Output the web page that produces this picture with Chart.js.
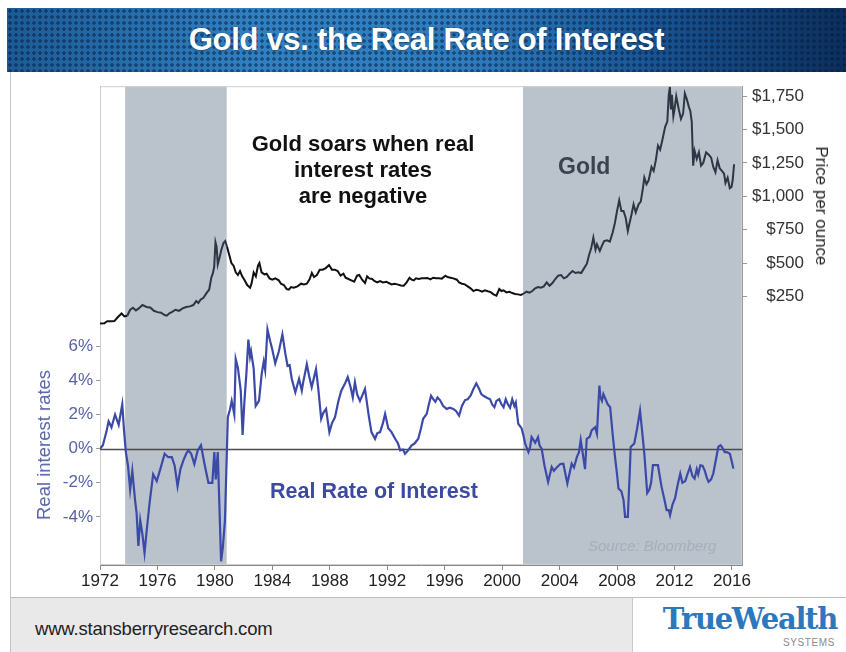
<!DOCTYPE html>
<html><head><meta charset="utf-8">
<script src="https://cdn.jsdelivr.net/npm/chart.js@4/dist/chart.umd.min.js"></script>
<style>
html,body{margin:0;padding:0;background:#fff;}
#page{position:relative;width:846px;height:652px;overflow:hidden;background:#fff;font-family:Arial,"Liberation Sans",sans-serif;}
#banner{position:absolute;left:7px;top:8px;width:839px;height:64px;
  background:
   radial-gradient(circle at 50% 50%, rgba(5,25,60,0.5) 0 1.5px, rgba(0,0,0,0) 2.1px) 0 0/6px 6px,
   linear-gradient(90deg,#1c5b95 0%,#3181c2 30%,#2e7cbd 55%,#185290 78%,#0c2f5c 100%);}
#banner h1{margin:0;position:absolute;left:0;right:0;top:14px;text-align:center;color:#fff;font:bold 31px Arial,"Liberation Sans",sans-serif;letter-spacing:-0.3px;text-shadow:0 1px 2px rgba(0,0,0,0.35);}
#leftrule{position:absolute;left:10px;top:72px;width:1px;height:580px;background:#c4c4c4;}
#chartBox{position:absolute;left:0;top:72px;width:846px;height:525px;}
.ann{position:absolute;white-space:nowrap;font-weight:bold;}
#a1{left:363px;top:131px;transform:translateX(-50%);text-align:center;font-size:22px;line-height:26px;color:#111;}
#a2{left:558px;top:153px;font-size:23px;color:#3a4350;}
#a3{left:270px;top:479px;font-size:21.5px;color:#3d4aa0;}
#src{position:absolute;left:588px;top:537px;font-style:italic;font-size:15px;color:#a6aeba;white-space:nowrap;}
#ltitle{position:absolute;left:44px;top:445px;transform:translate(-50%,-50%) rotate(-90deg);font-size:18.5px;color:#5a64aa;white-space:nowrap;}
#rtitle{position:absolute;left:821px;top:206px;transform:translate(-50%,-50%) rotate(90deg);font-size:17px;color:#222;white-space:nowrap;}
#footer{position:absolute;left:11px;top:597px;width:835px;height:55px;background:#e9e9e9;border-top:1px solid #bdbdbd;}
#url{position:absolute;left:24px;top:20px;font-size:18.5px;color:#222;white-space:nowrap;letter-spacing:-0.2px;}
#logo{position:absolute;left:621px;top:0;width:214px;height:55px;background:#fff;border-left:1px solid #c8c8c8;}
#tw{position:absolute;right:10px;top:4px;font-family:"DejaVu Serif","Liberation Serif",serif;font-weight:bold;font-size:29px;color:#2d78bd;letter-spacing:-1.3px;white-space:nowrap;}
#sys{position:absolute;right:12px;top:39px;font-size:10px;color:#8a8a8a;letter-spacing:0.6px;}
</style></head>
<body><div id="page">
<div id="banner"><h1>Gold vs. the Real Rate of Interest</h1></div>
<div id="leftrule"></div>
<div id="chartBox"><canvas id="c" width="846" height="525"></canvas></div>
<div class="ann" id="a1">Gold soars when real<br>interest rates<br>are negative</div>
<div class="ann" id="a2">Gold</div>
<div class="ann" id="a3">Real Rate of Interest</div>
<div id="src">Source: Bloomberg</div>
<div id="ltitle">Real interest rates</div>
<div id="rtitle">Price per ounce</div>
<div id="footer"><div id="url">www.stansberryresearch.com</div>
<div id="logo"><div id="tw">TrueWealth</div><div id="sys">SYSTEMS</div></div></div>
</div>
<script>
const xTickYears = [1972,1976,1980,1984,1988,1992,1996,2000,2004,2008,2012,2016];
const rateTicks = [-4,-2,0,2,4,6];
const priceTicks = [250,500,750,1000,1250,1500,1750];
const bandStarts = [1973.75, 2001.45];
const bandEnds = [1980.82, 2016.7];

const goldYears = [1972.0,1972.3,1972.5,1972.8,1973.0,1973.2,1973.5,1973.7,1973.9,1974.1,1974.3,1974.5,1974.7,1974.95,
1975.1,1975.3,1975.5,1975.75,1976.0,1976.25,1976.5,1976.65,1976.85,1977.0,1977.25,1977.5,1977.75,1978.0,1978.25,1978.5,1978.7,1978.85,
1979.0,1979.2,1979.45,1979.6,1979.75,1979.85,1979.95,1980.04,1980.12,1980.2,1980.3,1980.45,1980.6,1980.72,1980.85,
1981.0,1981.15,1981.3,1981.45,1981.6,1981.75,1981.9,1982.05,1982.25,1982.45,1982.55,1982.7,1982.85,1983.0,1983.1,1983.25,1983.45,1983.6,1983.8,
1984.0,1984.2,1984.45,1984.6,1984.8,1985.0,1985.15,1985.3,1985.5,1985.75,1986.0,1986.2,1986.4,1986.6,1986.75,1986.9,
1987.1,1987.3,1987.5,1987.7,1987.95,1988.15,1988.35,1988.55,1988.75,1988.95,1989.1,1989.3,1989.5,1989.7,1989.9,
1990.05,1990.25,1990.45,1990.6,1990.75,1990.95,1991.1,1991.3,1991.5,1991.7,1991.95,1992.1,1992.3,1992.5,1992.7,1992.95,
1993.15,1993.35,1993.55,1993.7,1993.85,1994.0,1994.2,1994.4,1994.6,1994.8,1995.0,1995.2,1995.4,1995.6,1995.8,
1996.05,1996.2,1996.4,1996.6,1996.85,1997.0,1997.2,1997.4,1997.6,1997.8,1998.0,1998.2,1998.4,1998.6,1998.8,
1999.0,1999.2,1999.4,1999.6,1999.8,1999.95,2000.1,2000.3,2000.5,2000.7,2000.9,2001.1,2001.3,2001.45,2001.7,2001.9,
2002.1,2002.3,2002.5,2002.7,2002.9,2003.1,2003.3,2003.5,2003.7,2003.9,2004.1,2004.3,2004.5,2004.7,2004.9,
2005.1,2005.3,2005.5,2005.7,2005.9,2006.05,2006.2,2006.35,2006.5,2006.6,2006.8,2006.95,2007.1,2007.3,2007.5,2007.7,2007.85,
2008.0,2008.15,2008.3,2008.45,2008.6,2008.75,2008.85,2009.0,2009.15,2009.3,2009.5,2009.65,2009.8,2009.9,
2010.05,2010.2,2010.4,2010.55,2010.7,2010.85,2011.0,2011.15,2011.35,2011.5,2011.6,2011.68,2011.75,2011.82,2011.92,
2012.0,2012.12,2012.3,2012.45,2012.6,2012.72,2012.85,2013.0,2013.1,2013.2,2013.3,2013.4,2013.55,2013.7,2013.85,
2014.0,2014.2,2014.4,2014.55,2014.7,2014.85,2015.0,2015.15,2015.3,2015.45,2015.55,2015.7,2015.85,2015.97,2016.05,2016.15];
const goldPrices = [46,49,64,63,65,90,122,100,105,150,165,145,160,185,
178,168,166,142,132,128,110,105,125,132,150,142,160,170,175,185,215,200,
225,240,280,300,390,420,470,655,620,490,530,600,650,665,620,
560,500,480,430,410,440,400,375,335,315,345,430,400,480,500,430,415,420,385,
375,385,370,345,335,305,300,320,315,325,345,340,345,380,425,395,
410,450,450,460,485,450,450,440,405,420,390,380,370,360,405,
410,375,350,400,385,380,365,355,365,355,360,350,340,345,340,332,
330,355,390,375,370,385,380,385,385,388,378,390,386,385,383,
405,395,390,385,375,355,345,340,325,310,290,300,295,285,295,
288,282,265,255,305,290,295,280,285,275,268,265,260,268,285,278,
290,310,320,315,325,355,330,350,380,405,410,385,395,420,440,
425,430,425,460,495,560,610,690,600,640,590,630,665,670,660,730,800,
890,970,890,890,840,740,790,860,940,880,940,960,1060,1140,
1090,1120,1220,1190,1270,1380,1350,1420,1520,1560,1760,1820,1650,1760,1600,
1650,1750,1650,1580,1620,1770,1730,1670,1640,1560,1230,1340,1280,1330,1230,
1250,1330,1310,1290,1220,1180,1270,1210,1190,1170,1100,1140,1060,1070,1120,1240];

const rateYears = [1972.0,1972.2,1972.45,1972.6,1972.8,1973.05,1973.3,1973.55,1973.67,1973.8,1973.95,1974.1,1974.25,1974.44,1974.55,1974.67,1974.8,1974.95,
1975.1,1975.25,1975.45,1975.7,1975.95,1976.2,1976.5,1976.75,1977.0,1977.2,1977.4,1977.6,1977.8,1978.0,1978.15,1978.35,1978.57,1978.8,
1979.03,1979.3,1979.55,1979.82,1979.96,1980.06,1980.2,1980.43,1980.55,1980.7,1980.9,1981.05,1981.17,1981.35,1981.45,1981.6,1981.8,1981.93,
1982.05,1982.2,1982.33,1982.45,1982.52,1982.7,1982.84,1983.07,1983.26,1983.4,1983.5,1983.66,1983.85,1984.0,1984.2,1984.45,1984.7,1984.9,
1985.06,1985.2,1985.35,1985.6,1985.86,1986.05,1986.15,1986.4,1986.55,1986.74,1987.04,1987.2,1987.4,1987.55,1987.74,1987.97,
1988.15,1988.36,1988.6,1988.8,1989.05,1989.25,1989.45,1989.6,1989.75,1989.9,1990.1,1990.3,1990.45,1990.7,1990.9,
1991.15,1991.3,1991.5,1991.7,1991.85,1992.07,1992.3,1992.55,1992.75,1992.9,1993.1,1993.24,1993.45,1993.7,1993.9,
1994.16,1994.35,1994.5,1994.75,1994.9,1995.05,1995.2,1995.35,1995.5,1995.67,1995.9,1996.14,1996.35,1996.6,1996.8,
1997.0,1997.2,1997.42,1997.6,1997.8,1998.0,1998.2,1998.4,1998.55,1998.7,1998.9,1999.16,1999.3,1999.46,1999.6,1999.8,1999.95,
2000.1,2000.25,2000.4,2000.55,2000.7,2000.85,2000.95,2001.12,2001.35,2001.48,2001.6,2001.83,2001.95,
2002.05,2002.3,2002.5,2002.6,2002.75,2002.95,2003.2,2003.45,2003.6,2003.8,2004.05,2004.26,2004.54,2004.84,
2005.0,2005.2,2005.35,2005.47,2005.65,2005.77,2005.89,2006.1,2006.23,2006.47,2006.6,2006.77,2006.85,2006.95,
2007.05,2007.2,2007.35,2007.52,2007.7,2007.86,2008.0,2008.1,2008.3,2008.45,2008.56,2008.75,2008.88,2008.95,
2009.2,2009.4,2009.6,2009.75,2009.9,2010.1,2010.25,2010.37,2010.5,2010.85,2010.95,2011.1,2011.3,2011.45,2011.6,2011.69,2011.85,
2012.04,2012.2,2012.4,2012.55,2012.75,2012.9,2013.08,2013.25,2013.4,2013.55,2013.65,2013.8,2013.95,
2014.1,2014.25,2014.37,2014.55,2014.7,2014.85,2015.05,2015.2,2015.3,2015.5,2015.63,2015.86,2016.0,2016.1];
const rateValues = [0.0,0.2,1.0,1.6,1.25,2.0,1.4,2.6,1.1,-0.2,-1.0,-2.4,-1.3,-3.0,-3.8,-5.7,-4.2,-5.0,
-6.1,-4.8,-3.2,-1.5,-1.9,-1.2,-0.3,-0.5,-0.5,-1.0,-2.2,-1.2,-0.7,-0.3,-0.1,-0.3,-0.9,-0.1,
0.2,-1.0,-2.0,-2.0,-0.2,-1.8,-0.2,-6.6,-5.8,-4.2,1.85,2.3,2.8,2.0,5.25,4.75,3.4,0.8,
2.7,4.5,6.4,5.4,5.7,4.7,2.5,2.8,4.4,5.1,4.6,7.0,6.3,5.8,5.0,5.7,6.7,5.6,
4.85,4.9,4.1,3.3,4.1,3.4,3.9,4.95,4.3,3.6,4.66,3.5,1.75,2.1,2.33,0.97,
1.5,1.84,2.8,3.4,3.8,4.2,3.6,3.0,3.9,3.2,2.8,3.2,3.5,2.0,0.97,
0.58,0.9,0.97,1.5,2.04,1.2,0.97,0.58,0.3,-0.1,-0.05,-0.3,-0.1,0.2,0.3,
0.58,1.2,1.75,2.04,2.6,3.1,2.9,2.75,3.0,2.85,2.5,2.33,2.4,2.33,2.2,
1.94,2.5,2.85,2.9,3.1,3.5,3.83,3.5,3.2,3.1,3.0,2.9,2.6,2.43,2.8,2.9,2.6,
2.43,2.9,2.6,2.4,2.9,2.5,2.7,1.46,1.2,0.78,0.3,-0.2,0.1,
0.68,0.35,0.68,0.2,0.0,-1.0,-1.95,-1.07,-1.3,-1.1,-0.9,-0.88,-2.04,-0.88,
-1.1,-0.5,-0.2,0.5,-0.5,-1.2,0.58,0.7,1.07,1.26,0.87,3.7,3.0,2.8,
3.2,2.9,2.6,2.43,0.8,-0.5,-1.5,-2.33,-2.5,-3.0,-4.0,-4.0,-1.5,0.1,
0.3,1.2,2.23,1.0,-0.3,-2.6,-2.4,-2.0,-0.97,-0.97,-1.5,-2.24,-3.0,-3.6,-3.6,-3.9,-3.3,
-2.9,-2.2,-1.46,-2.0,-1.9,-1.5,-1.07,-1.6,-1.75,-1.2,-1.5,-0.97,-1.0,
-1.27,-1.7,-1.95,-1.8,-1.46,-0.8,0.1,0.2,0.1,-0.2,-0.2,-0.3,-0.8,-1.17];

const goldData = goldYears.map((x,i)=>({x, y: goldPrices[i]}));
const rateData = rateYears.map((x,i)=>({x, y: rateValues[i]}));
const inBand = v => bandStarts.some((s,i)=> v >= s && v <= bandEnds[i]);

const bandPlugin = {
  id: 'bands',
  beforeDatasetsDraw(chart) {
    const {ctx, chartArea: a, scales: {x, y}} = chart;
    ctx.save();
    ctx.fillStyle = '#bac2cc';
    for (let i = 0; i < bandStarts.length; i++) {
      const x0 = Math.max(a.left, x.getPixelForValue(bandStarts[i]));
      const x1 = Math.min(a.right, x.getPixelForValue(bandEnds[i]));
      ctx.fillRect(x0, a.top, x1 - x0, a.bottom - a.top);
    }
    ctx.strokeStyle = '#cfcfcf'; ctx.lineWidth = 1;
    ctx.strokeRect(a.left + 0.5, a.top + 0.5, a.right - a.left - 1, a.bottom - a.top - 1);
    const y0 = Math.round(y.getPixelForValue(0)) + 0.5;
    ctx.strokeStyle = '#4a4a4a'; ctx.lineWidth = 1.5;
    ctx.beginPath(); ctx.moveTo(a.left, y0); ctx.lineTo(a.right, y0); ctx.stroke();
    ctx.restore();
  }
};

new Chart(document.getElementById('c'), {
  type: 'line',
  data: { datasets: [
    { label: 'Gold', data: goldData, yAxisID: 'y1', borderColor: '#111', borderWidth: 2, pointRadius: 0, tension: 0,
      segment: { borderColor: c => inBand(c.p0.parsed.x) ? '#2c3644' : '#111' } },
    { label: 'Real Rate of Interest', data: rateData, yAxisID: 'y', borderColor: '#3b4aa8', borderWidth: 2.2, pointRadius: 0, tension: 0 }
  ]},
  options: {
    responsive: false, animation: false, events: [],
    layout: { padding: { top: 13, left: 0, right: 42, bottom: 0 } },
    plugins: { legend: { display: false }, tooltip: { enabled: false }, title: { display: false } },
    scales: {
      x: { type: 'linear', min: 1972, max: 2016.7,
        grid: { drawOnChartArea: false, drawTicks: true, tickLength: 5, color: '#888' },
        border: { display: true, color: '#888' },
        ticks: { color: '#222', font: { size: 17, family: 'Arial' }, padding: 1, maxRotation: 0, autoSkip: false, callback: v => String(v) },
        afterBuildTicks: s => { s.ticks = xTickYears.map(v => ({ value: v })); },
        afterFit: s => { s.height = 32; } },
      y: { position: 'left', min: -6.82, max: 21.25,
        grid: { drawOnChartArea: false, tickLength: 4, color: '#999' },
        border: { display: true, color: '#999' },
        ticks: { color: '#5862a6', font: { size: 17, family: 'Arial' }, padding: 3, callback: v => v + '%' },
        afterBuildTicks: s => { s.ticks = rateTicks.map(v => ({ value: v })); },
        afterFit: s => { s.width = 100; } },
      y1: { position: 'right', min: -1763, max: 1825,
        grid: { drawOnChartArea: false, tickLength: 5, color: '#999' },
        border: { display: true, color: '#999' },
        ticks: { color: '#333', font: { size: 17, family: 'Arial' }, padding: 4, crossAlign: 'far', callback: v => '$' + Number(v).toLocaleString('en-US') },
        afterBuildTicks: s => { s.ticks = priceTicks.map(v => ({ value: v })); },
        afterFit: s => { s.width = 62; } }
    }
  },
  plugins: [bandPlugin]
});
</script>
</body></html>
